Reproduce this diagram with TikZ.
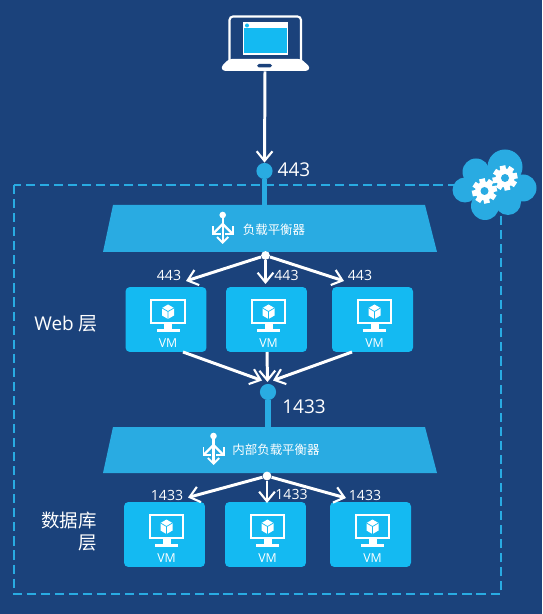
\documentclass[tikz,border=0pt]{standalone}
\usepackage{fontspec}
\setmainfont{Open Sans}
\newfontfamily\cjk{Noto Sans CJK SC}
\usepackage{tikz}
\usetikzlibrary{arrows.meta}

\definecolor{bgblue}{HTML}{1B427B}
\definecolor{lbblue}{HTML}{29ABE2}
\definecolor{vmblue}{HTML}{14BAF2}

\tikzset{
  wire/.style={draw=white,line width=1.7pt,-{Straight Barb[length=5.5pt,width=9pt,line width=1.2pt]}},
  stem/.style={draw=lbblue,line width=3.2pt},
  port/.style={circle,fill=lbblue,inner sep=0pt,minimum size=9.2pt},
  hub/.style={circle,fill=white,inner sep=0pt,minimum size=5pt},
  balancer/.style={fill=lbblue},
  vmbox/.style={fill=vmblue,rounded corners=2.5pt,inner sep=0pt,minimum width=1.62cm,minimum height=1.3cm},
  biglabel/.style={text=white,font=\fontsize{10.8}{13}\selectfont,inner sep=0pt},
  smalllabel/.style={text=white,font=\fontsize{8}{10}\selectfont,inner sep=0pt},
  vmlabel/.style={text=white,font=\fontsize{7}{8}\selectfont,inner sep=0pt},
  lblabel/.style={text=white,font=\fontsize{7.1}{9}\cjk\selectfont,inner sep=0pt},
  lbarrow/.style={white,line width=1.25pt,-{Straight Barb[length=3.2pt,width=6.4pt,line width=1.1pt]}},
}

% one virtual machine, #2,#3 = centre of the box
\newcommand{\vmnode}[3]{
  \node[vmbox] (#1) at (#2,#3) {};
  \begin{scope}[shift={(#2+2,#3)}]
    \draw[white,line width=1.25pt] (-16.8,-19.5) rectangle (16.8,3.5);
    \fill[white] (-4,4) rectangle (4,10);
    \fill[white] (-11.5,9.5) rectangle (11.5,12.8);
    \fill[white] (0,-15) -- (6,-11.5) -- (6,-4) -- (0,-0.5) -- (-6,-4) -- (-6,-11.5) -- cycle;
    \draw[vmblue,line width=0.4pt] (-6,-11.5) -- (0,-8) -- (6,-11.5) (0,-8) -- (0,-0.5);
    \node[vmlabel] (#1text) at (0,23.5) {VM};
  \end{scope}
}

% the balancer sign
\newcommand{\lbicon}[2]{
  \begin{scope}[shift={(#1,#2)}]
    \fill[white] (0,-14) circle (3.3);
    \draw[lbarrow] (0,-14) -- (0,15);
    \draw[lbarrow] (0,-5) -- (-11,6);
    \draw[lbarrow] (0,-5) -- (11,6);
  \end{scope}
}

% gear for the cloud
\newcommand{\gearicon}[2]{
  \begin{scope}[shift={(#1,#2)}]
    \foreach \a in {0,45,...,315}
      \fill[white,rotate=\a+12] (-2.9,-12.5) rectangle (2.9,0);
    \fill[white] (0,0) circle (9.5);
    \fill[lbblue] (0,0) circle (4);
  \end{scope}
}

\begin{document}
\begin{tikzpicture}[x=0.02cm,y=-0.02cm]

\fill[bgblue] (0,0) rectangle (542,614);

% laptop
\draw[white,line width=1.2pt,rounded corners=2pt] (229.5,61) -- (229.5,16.5) -- (301,16.5) -- (301,61);
\fill[white,rounded corners=1.5pt] (229,59) -- (301,59) -- (310,67) -- (308,71) -- (223,71) -- (221,67) -- cycle;
\fill[bgblue,rounded corners=1pt] (257,64) rectangle (272,67.5);
\fill[white] (243,22) rectangle (288,55);
\fill[vmblue] (244,28.5) rectangle (287,53.5);
\fill[vmblue] (247,25.5) circle (2);
\node[inner sep=0pt,minimum size=0pt] (laptop) at (265,71) {};

% outer dashed border
\draw[lbblue,line width=1.25pt,dash pattern=on 5.2pt off 2.8pt] (14,185) rectangle (501,594);

% balancers
\fill[balancer] (113,205) -- (425,205) -- (437,252) -- (103,252) -- cycle;
\fill[balancer] (113,427) -- (425,427) -- (437,473) -- (103,473) -- cycle;
\lbicon{222.7}{229}
\lbicon{213.5}{450}
\node[lblabel] (lbtop) at (274,229.5) {负载平衡器};
\node[lblabel] (lbbottom) at (276,450) {内部负载平衡器};

% ports
\node[port] (porttop) at (264.5,171) {};
\node[biglabel] (porttoptext) at (294,170) {443};
\node[port] (portbottom) at (268,392) {};
\node[biglabel] (portbottomtext) at (304,407) {1433};
\coordinate (lbtopin) at (264.5,205);
\coordinate (lbbottomin) at (268,427);
\draw[stem] (porttop) -- (lbtopin);
\draw[stem] (portbottom) -- (lbbottomin);
\draw[wire] (laptop) -- (porttop.north);

% web tier
\vmnode{weba}{166}{319.5}
\vmnode{webb}{266.5}{319.5}
\vmnode{webc}{372.5}{319.5}
\node[hub] (hubtop) at (265.5,255.5) {};
\coordinate (tipa) at (186,281);
\coordinate (tipb) at (265.5,284);
\coordinate (tipc) at (344,281);
\draw[wire] (hubtop) -- (tipa);
\draw[wire] (hubtop) -- (tipb);
\draw[wire] (hubtop) -- (tipc);
\node[smalllabel] (weblabela) at (169,275.5) {443};
\node[smalllabel] (weblabelb) at (286.5,275) {443};
\node[smalllabel] (weblabelc) at (360,275.5) {443};
\node[biglabel] (webtier) at (66,324) {Web {\cjk 层}};

% web tier down to the inner port
\coordinate (outa) at (183,352);
\coordinate (outb) at (267,352);
\coordinate (outc) at (352,352);
\coordinate (ina) at (262,380.5);
\coordinate (inb) at (267.5,382);
\coordinate (inc) at (273,380.5);
\draw[wire] (outa) -- (ina);
\draw[wire] (outb) -- (inb);
\draw[wire] (outc) -- (inc);

% database tier
\vmnode{dba}{164.5}{534.5}
\vmnode{dbb}{265.5}{534.5}
\vmnode{dbc}{370.5}{534.5}
\node[hub] (hubbottom) at (267,476) {};
\coordinate (tipd) at (188,497.5);
\coordinate (tipe) at (267,503);
\coordinate (tipf) at (346,498);
\draw[wire] (hubbottom) -- (tipd);
\draw[wire] (hubbottom) -- (tipe);
\draw[wire] (hubbottom) -- (tipf);
\node[smalllabel] (dblabela) at (167,495) {1433};
\node[smalllabel] (dblabelb) at (291.5,494) {1433};
\node[smalllabel] (dblabelc) at (365,495) {1433};
\node[text=white,font=\fontsize{10.5}{12.5}\cjk\selectfont,inner sep=0pt,align=right,anchor=east] (dbtier) at (97,532) {数据库\\层};

% cloud
\fill[lbblue] (505,167) circle (17.5);
\fill[lbblue] (476,172) circle (13.5);
\fill[lbblue] (465,190) circle (12.5);
\fill[lbblue] (485,206) circle (14);
\fill[lbblue] (523,188) circle (13.5);
\fill[lbblue] (508,202) circle (13);
\fill[lbblue] (490,185) circle (18);
\gearicon{484.5}{191}
\gearicon{505}{178}

\end{tikzpicture}
\end{document}
